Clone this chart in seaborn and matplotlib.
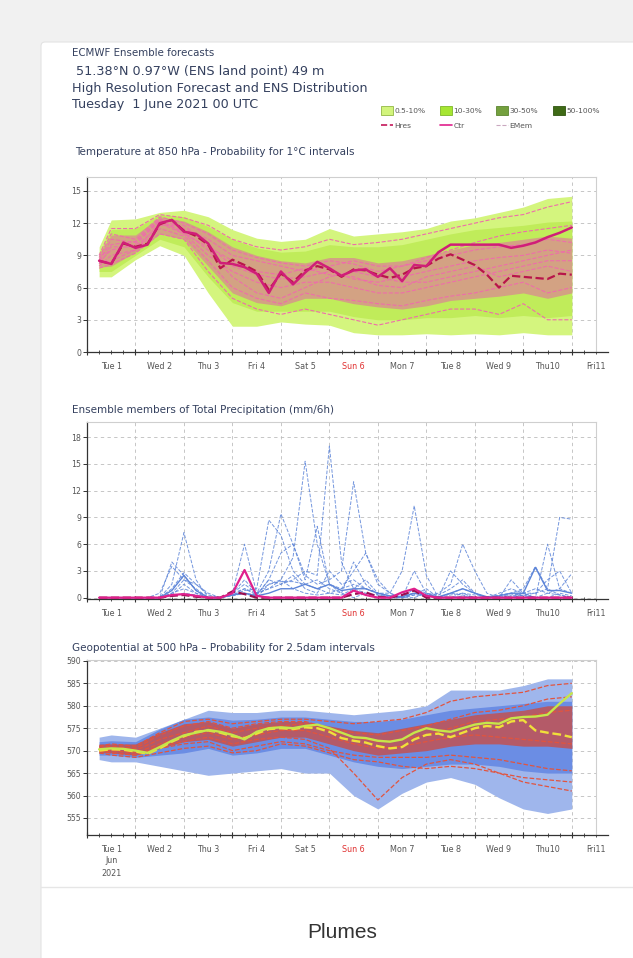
import numpy as np
import pandas as pd
import seaborn as sns
import matplotlib.pyplot as plt
from matplotlib.patches import FancyBboxPatch, Rectangle, Patch
from matplotlib.lines import Line2D
from matplotlib.ticker import MultipleLocator

# ---- data -------------------------------------------------------------
day_labels = ["Tue 1", "Wed 2", "Thu 3", "Fri 4", "Sat 5", "Sun 6",
              "Mon 7", "Tue 8", "Wed 9", "Thu10", "Fri11"]
steps = list(range(6, 241, 6))                     # forecast steps (h), 6-hourly
env_steps = [6, 12, 24, 36, 48, 60, 72, 84, 96, 108, 120,
             132, 144, 156, 168, 180, 192, 204, 216, 228, 240]

# Temperature at 850 hPa
t_ctr = [8.5, 8.2, 10.2, 9.7, 10.0, 12.0, 12.3, 11.2, 11.0, 10.1,
         8.3, 8.2, 7.9, 7.3, 5.5, 7.5, 6.3, 7.4, 8.4, 7.8,
         7.1, 7.6, 7.7, 7.0, 7.8, 6.6, 8.1, 8.0, 9.3, 10.0,
         10.0, 10.0, 10.0, 10.0, 9.7, 9.9, 10.2, 10.7, 11.1, 11.6]
t_hres = [8.5, 8.2, 10.1, 9.8, 10.1, 11.9, 12.3, 11.3, 10.8, 10.0,
          7.8, 8.6, 8.1, 7.5, 5.8, 7.3, 6.5, 7.6, 8.0, 7.7,
          7.0, 7.7, 7.6, 7.2, 6.9, 7.2, 7.8, 8.0, 8.7, 9.1,
          8.6, 8.1, 7.2, 6.0, 7.1, 7.0, 6.9, 6.8, 7.3, 7.2]
t_outer_lo = [7.0, 7.0, 8.6, 9.9, 9.0, 5.5, 2.4, 2.4, 2.8, 2.6, 2.5,
              1.8, 1.6, 1.6, 1.7, 1.6, 1.7, 1.6, 1.8, 1.6, 1.6]
t_outer_hi = [9.8, 12.3, 12.4, 13.0, 13.2, 12.6, 11.4, 10.6, 10.3, 10.5, 11.5,
              10.8, 11.0, 11.2, 11.5, 12.2, 12.5, 13.0, 13.5, 14.3, 14.5]
t_mid_lo = [7.5, 7.5, 9.0, 10.5, 9.8, 7.0, 4.6, 3.8, 3.8, 3.8, 3.8,
            3.3, 3.0, 3.0, 3.2, 3.2, 3.4, 3.2, 3.4, 3.2, 3.4]
t_mid_hi = [9.3, 11.4, 11.5, 12.8, 12.6, 11.7, 10.5, 9.7, 9.3, 9.4, 10.0,
            9.8, 9.8, 10.0, 10.5, 11.0, 11.4, 11.6, 11.8, 12.1, 12.2]
t_in_lo = [7.9, 8.0, 9.3, 11.0, 10.5, 8.0, 5.5, 4.6, 4.3, 5.0, 5.0,
           4.5, 4.2, 4.0, 4.3, 4.8, 5.0, 5.2, 5.5, 5.0, 5.5]
t_in_hi = [9.1, 10.9, 10.9, 12.6, 12.2, 11.2, 9.8, 9.0, 8.5, 8.3, 8.8,
           8.8, 8.3, 8.5, 9.0, 9.5, 10.0, 10.2, 10.5, 10.8, 10.6]
t_members = [
    [8.3, 8.5, 9.5, 12.0, 11.0, 9.0, 7.5, 6.5, 6.0, 6.5, 6.5, 6.0, 5.5, 5.5, 6.0, 6.5, 7.0, 7.5, 8.0, 8.5, 8.5],
    [8.6, 10.0, 10.3, 12.4, 11.5, 10.5, 9.0, 8.5, 8.0, 7.5, 8.0, 8.5, 8.0, 8.0, 8.5, 9.0, 9.5, 9.8, 10.0, 10.5, 10.2],
    [8.0, 9.0, 9.5, 11.5, 10.8, 8.5, 6.0, 5.0, 4.5, 5.5, 5.0, 4.8, 4.5, 4.3, 4.8, 5.2, 5.5, 6.0, 6.5, 5.5, 6.0],
    [8.8, 11.0, 10.5, 12.6, 12.0, 11.0, 9.5, 8.8, 8.3, 8.0, 8.5, 8.2, 7.5, 8.0, 8.8, 9.5, 10.2, 10.8, 11.2, 11.5, 11.8],
    [8.4, 9.5, 10.0, 12.2, 11.2, 9.5, 7.0, 5.5, 5.0, 6.0, 7.0, 7.5, 7.0, 6.5, 6.5, 7.0, 7.5, 8.0, 8.5, 9.0, 9.5],
    [7.8, 8.2, 9.2, 11.0, 10.5, 7.5, 5.0, 4.0, 3.5, 4.0, 3.5, 3.0, 2.5, 3.0, 3.5, 4.0, 4.0, 3.5, 4.5, 3.0, 3.0],
    [9.0, 11.5, 11.5, 12.8, 12.5, 11.8, 10.5, 9.8, 9.5, 9.8, 10.5, 10.0, 10.2, 10.5, 11.0, 11.5, 12.0, 12.5, 12.8, 13.5, 14.0],
    [8.2, 9.8, 9.8, 11.8, 11.8, 10.0, 8.0, 7.2, 6.8, 7.0, 7.5, 6.8, 6.5, 7.0, 7.5, 8.0, 8.5, 8.8, 9.0, 9.5, 9.2],
    [8.5, 10.5, 10.2, 12.3, 11.0, 9.8, 8.5, 7.5, 7.2, 7.8, 7.2, 7.0, 6.2, 6.0, 7.0, 7.5, 8.0, 7.0, 7.5, 8.0, 7.5],
]

# Total precipitation (mm/6h)
p_ctr = [0, 0, 0, 0, 0, 0, 0.3, 0.4, 0.2, 0, 0, 0.5, 3.1, 0.2, 0, 0, 0, 0, 0, 0,
         0, 0.8, 0.3, 0, 0, 0.6, 1.0, 0.2, 0, 0, 0, 0, 0, 0, 0, 0, 0, 0, 0, 0]
p_hres = [0, 0, 0, 0, 0, 0, 0.2, 0.3, 0.1, 0, 0, 0.7, 0.4, 0, 0, 0, 0, 0, 0, 0,
          0, 0.4, 0.6, 0.1, 0, 0.3, 0.8, 0, 0, 0, 0, 0, 0, 0, 0, 0, 0, 0, 0, 0]
p_solid = [0, 0, 0, 0, 0, 0, 0.8, 2.5, 0.8, 0, 0, 0.3, 0.5, 0.2, 0.5, 1.0, 1.0, 1.5, 1.0, 1.5,
           0.8, 1.0, 1.0, 0.5, 0.2, 0.1, 0.5, 0.3, 0.1, 0.5, 1.0, 0.5, 0.1, 0.2, 0.5, 0.5, 3.4, 0.8, 0.8, 0.5]
p_members = [
    [0, 0, 0, 0, 0, 0, 1.5, 7.3, 2.0, 0, 0, 0.3, 0.5, 0, 1.5, 2.0, 4.5, 15.3, 6.0, 1.5,
     0.5, 0, 0.5, 0.3, 0, 0, 0.3, 0.2, 0, 0, 0.5, 0.3, 0, 0, 0.2, 0.3, 0, 0, 0, 0],
    [0, 0, 0, 0, 0, 0, 4.0, 2.5, 0.8, 0, 0, 0.5, 1.0, 0.3, 2.0, 1.5, 2.0, 3.0, 2.5, 17.0,
     4.0, 1.0, 2.0, 0.5, 0, 0, 0.3, 1.0, 0, 0, 0.2, 0, 0, 0.3, 0.5, 0.2, 0, 0, 0.5, 0.2],
    [0, 0, 0, 0, 0, 0.5, 3.5, 2.0, 1.0, 0, 0, 0.5, 1.5, 0.5, 3.0, 9.4, 6.0, 2.5, 1.5, 2.0,
     3.0, 13.0, 5.0, 1.5, 0.5, 0, 0, 0.5, 0, 0.3, 0.5, 0, 0, 0, 0.3, 0.5, 0, 0.5, 1.0, 0.5],
    [0, 0, 0, 0, 0, 0, 0.5, 1.0, 0.5, 0, 0, 0.3, 0.8, 1.0, 8.7, 7.0, 3.0, 1.5, 1.0, 0.5,
     1.0, 1.5, 1.0, 0.5, 0.5, 3.0, 10.3, 2.5, 0, 0.5, 0.3, 0, 0, 0, 0, 0.5, 1.0, 0.5, 0.3, 0],
    [0, 0, 0, 0, 0, 0, 0.3, 1.5, 0.5, 0, 0, 0.5, 6.0, 0.5, 1.0, 2.0, 1.0, 0.5, 0.3, 0.5,
     0.3, 1.0, 0.5, 0, 0, 0.2, 0.5, 0.3, 0.5, 1.5, 6.0, 3.0, 0.5, 0, 0, 0.3, 0.5, 1.0, 9.0, 8.8],
    [0, 0, 0, 0, 0, 0, 0.2, 0.5, 0.3, 0, 0, 0.2, 0.5, 0.3, 2.0, 5.0, 6.0, 2.0, 8.0, 1.5,
     1.0, 3.0, 5.0, 2.0, 0.5, 0, 0.5, 0.2, 0, 0.5, 1.0, 0.5, 0, 0, 0.5, 1.0, 3.5, 1.0, 0.3, 0],
    [0, 0, 0, 0, 0, 0, 1.0, 2.8, 1.5, 0.3, 0, 0.3, 1.0, 0.5, 1.5, 1.8, 1.8, 1.5, 2.0, 1.0,
     0.5, 4.0, 1.5, 0.3, 0, 0, 3.0, 0.5, 0, 3.0, 1.5, 0.5, 0, 0, 2.0, 0.5, 0, 6.0, 1.0, 2.7],
    [0, 0, 0, 0, 0, 0, 0.5, 2.0, 1.5, 0.5, 0, 0.5, 2.0, 0.5, 1.0, 1.5, 2.5, 1.0, 0.5, 3.0,
     1.5, 2.0, 1.0, 0.5, 0.2, 0, 1.0, 0.5, 0.3, 1.0, 2.0, 0.5, 0, 0.5, 1.0, 0.5, 0.5, 2.0, 3.0, 0.5],
]

# Geopotential at 500 hPa (dam)
z_ctr = [570.3, 570.5, 570.4, 570.0, 569.5, 570.8, 572.2, 573.4, 574.0, 574.6,
         574.2, 573.5, 572.5, 574.2, 575.0, 575.2, 575.0, 575.5, 575.8, 575.0,
         574.0, 573.0, 572.8, 572.2, 572.0, 572.5, 574.0, 575.0, 574.5, 574.2,
         575.0, 575.8, 576.2, 576.0, 577.2, 577.5, 577.6, 578.0, 580.5, 582.8]
z_hres = [570.0, 570.3, 570.2, 569.8, 569.3, 570.5, 572.0, 573.2, 574.2, 574.5,
          574.0, 573.2, 572.8, 573.8, 574.8, 575.0, 574.8, 575.2, 575.0, 574.2,
          572.8, 572.2, 571.8, 571.0, 570.5, 570.8, 572.5, 573.5, 573.8, 573.0,
          574.0, 575.0, 575.5, 575.2, 576.5, 576.8, 574.5, 574.0, 573.6, 573.0]
z_outer_lo = [568.0, 567.5, 567.5, 566.5, 565.5, 564.5, 565.0, 565.5, 566.0, 565.0, 565.0,
              560.0, 557.0, 560.5, 563.0, 564.0, 562.5, 559.5, 557.0, 556.0, 557.0]
z_outer_hi = [573.0, 573.5, 573.0, 575.0, 577.0, 579.0, 578.5, 578.5, 579.0, 579.0, 578.5,
              578.0, 578.5, 579.0, 580.0, 583.5, 583.5, 583.5, 584.5, 586.0, 586.0]
z_mid_lo = [569.0, 569.0, 568.5, 569.0, 569.5, 570.5, 569.0, 569.5, 570.5, 570.5, 569.0,
            567.5, 566.5, 566.0, 566.5, 567.0, 567.0, 566.5, 565.5, 565.0, 565.0]
z_mid_hi = [572.0, 572.2, 572.0, 574.8, 577.0, 577.5, 576.8, 577.0, 577.5, 577.5, 577.0,
            576.5, 576.5, 577.0, 578.0, 579.0, 579.5, 580.0, 580.5, 581.0, 581.0]
z_in_lo = [569.5, 569.5, 569.0, 570.5, 572.0, 572.5, 571.0, 572.0, 573.0, 573.0, 571.5,
           570.0, 569.0, 569.5, 570.0, 571.0, 571.5, 571.5, 571.0, 571.0, 570.5]
z_in_hi = [571.5, 571.5, 571.5, 574.0, 576.0, 576.5, 575.0, 576.0, 576.5, 576.5, 575.5,
           574.5, 574.0, 575.0, 576.0, 577.0, 578.0, 578.5, 579.0, 580.0, 580.0]
z_members = [
    [570.0, 569.5, 569.0, 571.0, 572.0, 573.0, 571.5, 572.5, 573.0, 572.5, 570.5, 565.0, 559.0, 564.0, 567.0, 568.0, 567.0, 565.0, 563.0, 562.0, 561.0],
    [571.0, 571.5, 571.0, 574.0, 576.5, 577.0, 576.0, 576.5, 577.0, 577.0, 576.5, 576.0, 576.5, 577.0, 578.5, 581.0, 582.0, 582.5, 583.0, 584.5, 585.0],
    [570.5, 570.5, 570.0, 572.5, 574.0, 575.5, 574.0, 575.0, 575.5, 576.0, 574.5, 573.0, 572.0, 572.5, 573.5, 575.0, 576.5, 577.0, 577.5, 578.5, 579.0],
    [569.5, 569.0, 568.5, 569.5, 570.5, 571.0, 569.5, 570.0, 571.5, 571.0, 569.5, 568.0, 567.5, 566.5, 566.0, 566.5, 566.0, 565.0, 564.0, 563.5, 563.0],
    [570.0, 570.0, 569.5, 571.5, 573.0, 574.0, 572.5, 573.5, 574.5, 574.5, 573.0, 571.5, 570.5, 571.0, 572.0, 573.0, 573.5, 573.0, 572.5, 572.0, 571.5],
    [570.8, 571.0, 570.5, 573.5, 575.5, 576.5, 575.0, 576.0, 576.5, 576.5, 575.0, 574.0, 573.5, 574.5, 575.5, 577.0, 578.5, 579.0, 580.0, 581.5, 582.0],
    [569.8, 569.5, 569.0, 570.5, 571.5, 572.0, 570.0, 571.0, 572.0, 571.5, 570.0, 569.0, 568.5, 568.5, 568.5, 569.0, 568.5, 568.0, 567.0, 566.0, 565.5],
]

# ---- styling ----------------------------------------------------------
sns.set_theme(style="white")
plt.rcParams['font.family'] = ['DejaVu Sans']
TXT = '#34405e'
TICK = '#555555'
GRID = '#bdbdbd'

fig = plt.figure(figsize=(6.33, 9.58), dpi=100)

# page background + card (pixel coordinates)
bg = fig.add_axes([0, 0, 1, 1], zorder=-10)
bg.set_xlim(0, 633)
bg.set_ylim(958, 0)
bg.axis('off')
bg.add_patch(Rectangle((0, 0), 633, 958, color='#f1f1f1'))
bg.add_patch(FancyBboxPatch((41, 42), 620, 940, boxstyle="round,pad=0,rounding_size=4",
                            facecolor='white', edgecolor='#e3e3e3', lw=0.8))
bg.plot([41, 633], [887, 887], color='#e6e6e6', lw=1)
bg.text(342, 932, "Plumes", ha='center', va='center', fontsize=15, color='#333333',
        family='Liberation Sans')

bg.text(72, 53, "ECMWF Ensemble forecasts", fontsize=7.4, color=TXT, va='center')
bg.text(72, 71, " 51.38°N 0.97°W (ENS land point) 49 m", fontsize=9.2, color=TXT, va='center')
bg.text(72, 88, "High Resolution Forecast and ENS Distribution", fontsize=9.2, color=TXT, va='center')
bg.text(72, 104, "Tuesday  1 June 2021 00 UTC", fontsize=9.2, color=TXT, va='center')
bg.text(75, 152, "Temperature at 850 hPa - Probability for 1°C intervals", fontsize=7.5, color=TXT, va='center')
bg.text(72, 410, "Ensemble members of Total Precipitation (mm/6h)", fontsize=7.5, color=TXT, va='center')
bg.text(72, 648, "Geopotential at 500 hPa \u2013 Probability for 2.5dam intervals", fontsize=7.5, color=TXT, va='center')

# legend
handles = [
    Patch(facecolor='#d2f47c', edgecolor='#93b845', lw=0.6, label='0.5-10%'),
    Line2D([], [], color='#c4185a', ls='--', lw=1.2, label='Hres'),
    Patch(facecolor='#a6e632', edgecolor='#7fb82a', lw=0.6, label='10-30%'),
    Line2D([], [], color='#e0208c', ls='-', lw=1.2, label='Ctr'),
    Patch(facecolor='#74a03e', edgecolor='#5b8530', lw=0.6, label='30-50%'),
    Line2D([], [], color='#c9a8c0', ls='--', lw=0.8, label='EMem'),
    Patch(facecolor='#3f6a16', edgecolor='#2f5510', lw=0.6, label='50-100%'),
]
fig.legend(handles=handles, ncol=4, loc='upper left', bbox_to_anchor=(377 / 633, 1 - 102 / 958),
           frameon=False, fontsize=5.4, handlelength=1.6, handleheight=1.6, handletextpad=0.2,
           columnspacing=1.9, labelspacing=0.75, borderpad=0, labelcolor=TICK)


def style_axis(ax, ymin, ymax, yticks, date_below=False):
    ax.set_xlim(0, 252)
    ax.set_ylim(ymin, ymax)
    ax.set_xticks(range(0, 253, 24))
    ax.set_xticklabels([])
    ax.xaxis.set_minor_locator(MultipleLocator(6))
    ax.set_yticks(yticks)
    ax.set_yticklabels([str(v) for v in yticks], fontsize=5.6, color=TICK)
    ax.grid(True, which='major', color=GRID, ls=(0, (4, 4)), lw=0.6)
    ax.set_facecolor('white')
    for s in ['top', 'right']:
        ax.spines[s].set_color('#cfcfcf')
        ax.spines[s].set_linewidth(0.8)
    for s in ['left', 'bottom']:
        ax.spines[s].set_color('#333333')
        ax.spines[s].set_linewidth(0.9)
    ax.spines['bottom'].set_bounds(0, 258)
    ax.tick_params(axis='x', which='major', direction='inout', length=5, width=0.8,
                   color='#333333', bottom=True)
    ax.tick_params(axis='x', which='minor', direction='inout', length=3, width=0.6,
                   color='#333333', bottom=True)
    ax.tick_params(axis='y', direction='out', length=3, width=0.7, color='#333333',
                   left=True, pad=1)
    tr = ax.get_xaxis_transform()
    for k, lab in enumerate(day_labels):
        ax.text(12 + 24 * k, -0.055, lab, transform=tr, ha='center', va='top', fontsize=5.8,
                color='#e03030' if lab.startswith('Sun') else TICK, clip_on=False)
    if date_below:
        ax.text(12, -0.122, "Jun", transform=tr, ha='center', va='top', fontsize=5.8, color=TICK)
        ax.text(12, -0.195, "2021", transform=tr, ha='center', va='top', fontsize=5.8, color=TICK)
    ax.set_xlabel('')
    ax.set_ylabel('')


L, W = 87 / 633, 509 / 633

# ---- panel 1: temperature ---------------------------------------------
ax1 = fig.add_axes([L, 1 - 352 / 958, W, 175 / 958])
ax1.fill_between(env_steps, t_outer_lo, t_outer_hi, color='#d4f57e', lw=0, zorder=1)
ax1.fill_between(env_steps, t_mid_lo, t_mid_hi, color='#c0ec5a', lw=0, zorder=1)
ax1.fill_between(env_steps, t_in_lo, t_in_hi, color='#d3a283', lw=0, zorder=1)
for m in t_members:
    sns.lineplot(x=env_steps, y=m, ax=ax1, color='#ee6eaa', lw=0.8, ls='--', zorder=2, legend=False)
sns.lineplot(x=steps, y=t_hres, ax=ax1, color='#b8154a', lw=1.6, ls='--', zorder=4, legend=False)
sns.lineplot(x=steps, y=t_ctr, ax=ax1, color='#d01e78', lw=1.8, zorder=5, legend=False)
style_axis(ax1, 0, 16.3, [0, 3, 6, 9, 12, 15])

# ---- panel 2: precipitation --------------------------------------------
ax2 = fig.add_axes([L, 1 - 599 / 958, W, 177 / 958])
for m in p_members:
    sns.lineplot(x=steps, y=m, ax=ax2, color='#5c84d8', lw=0.7, ls='--', alpha=0.85, legend=False)
sns.lineplot(x=steps, y=p_solid, ax=ax2, color='#5c84d8', lw=1.0, legend=False)
sns.lineplot(x=steps, y=p_hres, ax=ax2, color='#9a1050', lw=1.6, ls='--', zorder=4, legend=False)
sns.lineplot(x=steps, y=p_ctr, ax=ax2, color='#e0208c', lw=1.6, zorder=5, legend=False)
style_axis(ax2, -0.15, 19.7, [0, 3, 6, 9, 12, 15, 18])

# ---- panel 3: geopotential ---------------------------------------------
ax3 = fig.add_axes([L, 1 - 835 / 958, W, 175 / 958])
ax3.fill_between(env_steps, z_outer_lo, z_outer_hi, color='#9fb6ec', lw=0, zorder=1)
ax3.fill_between(env_steps, z_mid_lo, z_mid_hi, color='#6b8de4', lw=0, zorder=1)
ax3.fill_between(env_steps, z_in_lo, z_in_hi, color='#b45a68', lw=0, zorder=1)
for m in z_members:
    sns.lineplot(x=env_steps, y=m, ax=ax3, color='#e2543e', lw=0.9, ls='--', zorder=2, legend=False)
sns.lineplot(x=steps, y=z_hres, ax=ax3, color='#f0e03a', lw=1.7, ls='--', zorder=4, legend=False)
sns.lineplot(x=steps, y=z_ctr, ax=ax3, color='#c6e64a', lw=1.7, zorder=5, legend=False)
style_axis(ax3, 551.2, 590.2, [555, 560, 565, 570, 575, 580, 585, 590], date_below=True)

fig.savefig('out.png', dpi=100)
